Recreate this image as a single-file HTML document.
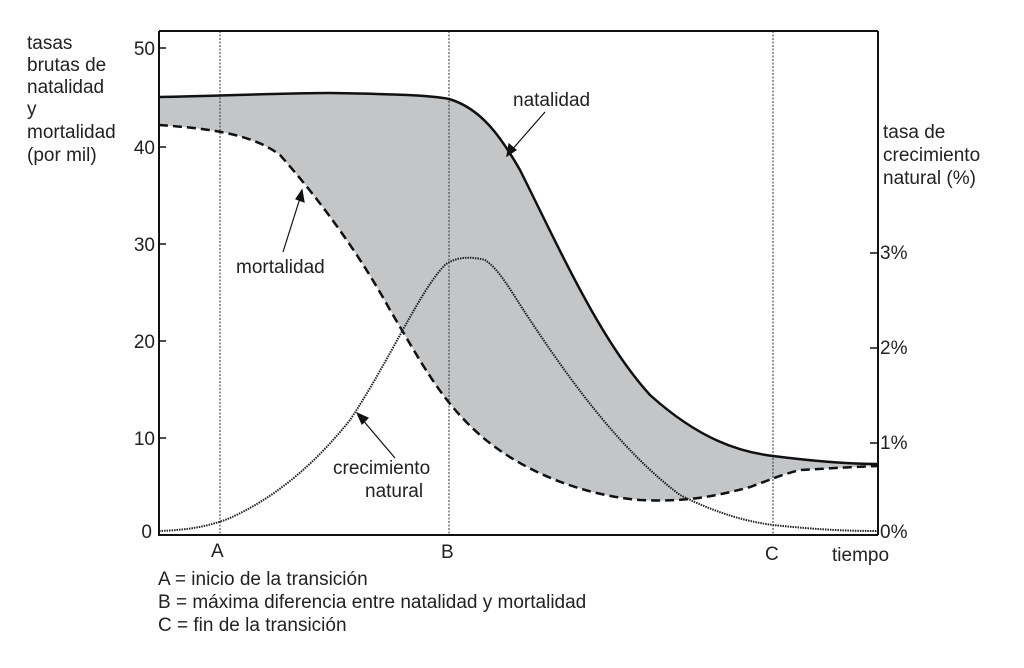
<!DOCTYPE html>
<html><head><style>body{margin:0;background:#fff}svg{display:block}text{font-family:"Liberation Sans",sans-serif;fill:#222}</style></head><body>
<svg width="1024" height="668" viewBox="0 0 1024 668">
<path d="M159,97 C220,96 280,93 330,93 C390,94 430,95 449,99 C480,108 500,135 520,170 C560,250 600,340 650,395 C700,440 740,452 773,456 C820,462 850,464 878,464 L878,466 C850,467 820,469 800,470 C780,475 770,480 750,487 C710,498 680,502 640,500 C580,495 520,470 480,435 C440,400 420,360 390,310 C360,255 320,200 280,155 C250,132 200,128 159,125 Z" fill="#c4c5c7"/>
<g stroke="#333" stroke-width="1" stroke-dasharray="2,1.5" fill="none">
<line x1="220" y1="31" x2="220" y2="535"/><line x1="449" y1="31" x2="449" y2="535"/><line x1="773" y1="31" x2="773" y2="535"/>
</g>
<path d="M159,97 C220,96 280,93 330,93 C390,94 430,95 449,99 C480,108 500,135 520,170 C560,250 600,340 650,395 C700,440 740,452 773,456 C820,462 850,464 878,464" stroke="#111" stroke-width="2.5" fill="none"/>
<path d="M159,125 C200,128 250,132 280,155 C320,200 360,255 390,310 C420,360 440,400 480,435 C520,470 580,495 640,500 C680,502 710,498 750,487 C770,480 780,475 800,470 C820,469 850,467 878,466" stroke="#111" stroke-width="2.5" stroke-dasharray="9,5" fill="none"/>
<path d="M159,531 C190,530 210,526 230,518 C270,500 310,470 350,420 C390,360 420,290 445,265 C455,257 470,256 485,260 C500,270 510,290 530,320 C570,380 620,450 680,495 C720,515 750,522 773,525 C820,530 850,531 878,531" stroke="#222" stroke-width="2" stroke-dasharray="1.5,1" fill="none"/>
<path d="M159,31 L878,31 M159,31 L159,535 L878,535 M878,31 L878,535" stroke="#111" stroke-width="2" fill="none"/>
<g stroke="#111" stroke-width="1.5">
<line x1="159" y1="48" x2="166" y2="48"/><line x1="159" y1="147" x2="166" y2="147"/><line x1="159" y1="244" x2="166" y2="244"/><line x1="159" y1="341" x2="166" y2="341"/><line x1="159" y1="438" x2="166" y2="438"/>
<line x1="870" y1="253" x2="878" y2="253"/><line x1="870" y1="348" x2="878" y2="348"/><line x1="870" y1="443" x2="878" y2="443"/>
</g>
<g font-size="19">
<text x="155" y="55" text-anchor="end">50</text><text x="155" y="154" text-anchor="end">40</text><text x="155" y="251" text-anchor="end">30</text><text x="155" y="348" text-anchor="end">20</text><text x="155" y="445" text-anchor="end">10</text><text x="152" y="538" text-anchor="end">0</text>
<text x="880" y="259">3%</text><text x="880" y="354">2%</text><text x="880" y="449">1%</text><text x="880" y="538">0%</text>
<text x="27" y="49">tasas</text><text x="27" y="71">brutas de</text><text x="27" y="93">natalidad</text><text x="27" y="115">y</text><text x="27" y="138">mortalidad</text><text x="27" y="161">(por mil)</text>
<text x="883" y="138">tasa de</text><text x="883" y="161">crecimiento</text><text x="883" y="184">natural (%)</text>
<text x="513" y="106">natalidad</text><text x="236" y="273">mortalidad</text><text x="333" y="474">crecimiento</text><text x="365" y="497">natural</text>
<text x="211" y="557">A</text><text x="441" y="558">B</text><text x="765" y="560">C</text><text x="832" y="561">tiempo</text>
<text x="158" y="585">A = inicio de la transición</text><text x="158" y="608">B = máxima diferencia entre natalidad y mortalidad</text><text x="158" y="631">C = fin de la transición</text>
</g>
<g stroke="#111" stroke-width="1.2" fill="#111">
<line x1="545" y1="112" x2="510" y2="152"/><path d="M507,156 L509,144 L516,150 Z"/>
<line x1="283" y1="252" x2="301" y2="195"/><path d="M302,190 L304,202 L296,199 Z"/>
<line x1="395" y1="458" x2="361" y2="418"/><path d="M357,413 L368,418 L362,424 Z"/>
</g>
</svg>
</body></html>
